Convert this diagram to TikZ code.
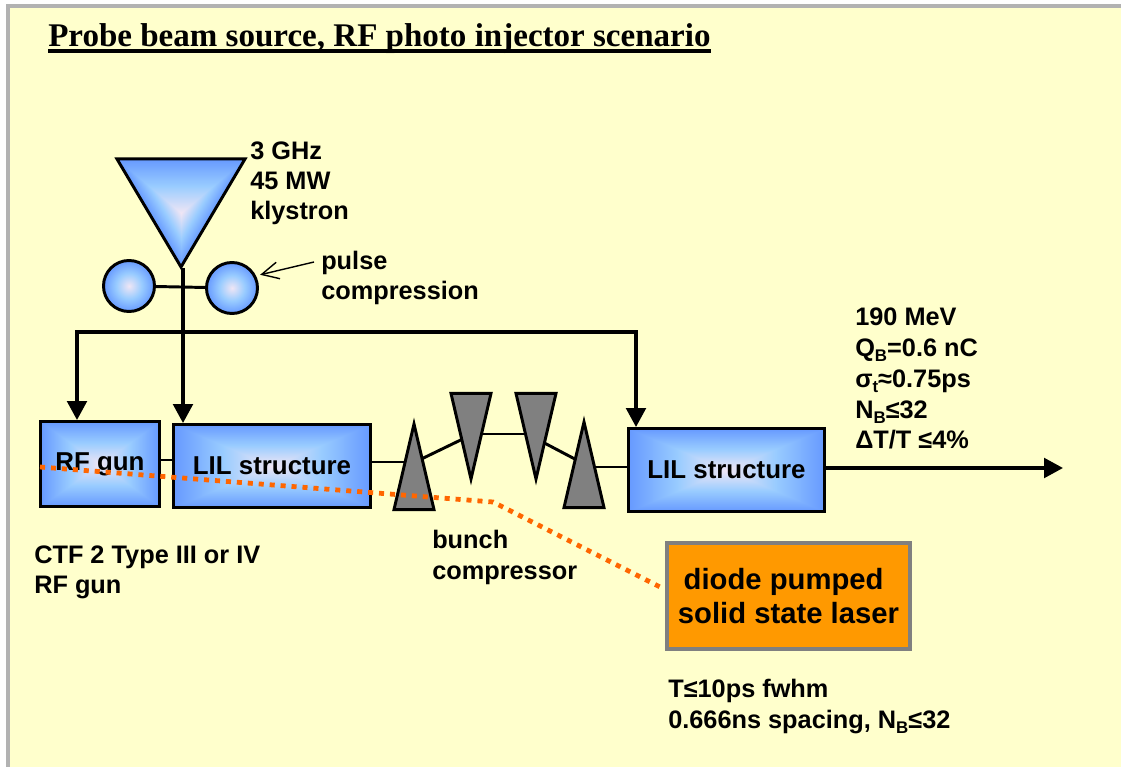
\documentclass[tikz,border=0pt]{standalone}
\usepackage{fontspec}
\setmainfont{Liberation Sans}
\newfontfamily\titlefont{Liberation Serif}
\usetikzlibrary{arrows.meta, shapes.geometric}
\definecolor{paper}{HTML}{FFFFCC}
\definecolor{framegray}{HTML}{B2B2B2}
\definecolor{coregray}{HTML}{808080}
\definecolor{laserorange}{HTML}{FF9900}
\definecolor{fibreorange}{HTML}{FF6600}
% colour ramp of the glow, from the middle (0) to the rim (1)
\newcommand{\glowramp}{dup 0.5 lt {2 mul dup 0.34 mul 0.94 exch sub exch dup 0.10 mul 0.90 exch sub exch 0.04 mul 0.96 add}{0.5 sub 2 mul dup 0.2 mul 0.6 exch sub exch dup 0.2 mul 0.8 exch sub exch pop 1} ifelse}
\pgfdeclarefunctionalshading{boxglow}{\pgfpoint{-50bp}{-50bp}}{\pgfpoint{50bp}{50bp}}{}{abs exch abs 2 copy lt {exch} if pop 25 div dup 1 gt {pop 1} if \glowramp}
\pgfdeclarefunctionalshading{ballglow}{\pgfpoint{-50bp}{-50bp}}{\pgfpoint{50bp}{50bp}}{}{dup mul exch dup mul add sqrt 25 div dup 1 gt {pop 1} if \glowramp}
\pgfdeclarefunctionalshading{wedgeglow}{\pgfpoint{-50bp}{-50bp}}{\pgfpoint{50bp}{50bp}}{}{2 copy exch abs 2 mul exch sub 3 1 roll exch pop 2 copy lt {exch} if pop 25 div dup 1 gt {pop 1} if \glowramp}
\newcommand{\lowtext}[1]{\raisebox{-0.42ex}{\fontsize{12}{12}\selectfont #1}}
\newcommand{\heavyline}[1]{\setbox0=\hbox{#1}\rlap{\rule[-4.5pt]{\wd0}{2.8pt}}\box0}
\tikzset{
    wave/.style={
        rectangle,
        draw=black,
        line width=2.1pt,
        shading=boxglow,
        font=\bfseries\fontsize{18.4}{21}\selectfont
    },
    cavity/.style={
        circle,
        draw=black,
        line width=2.1pt,
        minimum size=1.275cm,
        inner sep=0pt,
        shading=ballglow
    },
    wedge/.style={
        isosceles triangle,
        isosceles triangle stretches,
        draw=black,
        line width=2.1pt,
        inner sep=0pt,
        outer sep=0pt,
        anchor=apex,
        minimum width=1cm,
        minimum height=2.14cm
    },
    wedgeup/.style={wedge, shape border rotate=90, fill=coregray},
    wedgedown/.style={wedge, shape border rotate=270, fill=coregray},
    note/.style={
        align=left,
        anchor=base west,
        inner sep=0pt,
        font=\bfseries\fontsize{18}{21.5}\selectfont
    },
    link/.style={line width=2.1pt},
    feed/.style={line width=2.3pt, -{Triangle[length=13.5pt,width=14pt]}},
    pointer/.style={line width=1pt, shorten >=3pt, -{Straight Barb[length=12pt,width=12pt]}},
    fibre/.style={fibreorange, line width=3.4pt, dash pattern=on 3.6pt off 4.2pt}
}
\begin{document}
\begin{tikzpicture}[x=0.025cm, y=-0.025cm]
\useasboundingbox (0,0) rectangle (1121,767);
\fill[paper] (8,6) rectangle (1121,767);
\draw[framegray, line width=2.85pt] (1121,6) -- (8,6) -- (8,767);
\node[anchor=base west, inner sep=0pt, font=\titlefont\bfseries\fontsize{23.5}{28}\selectfont] (title) at (48,47) {\heavyline{Probe beam source, RF photo injector scenario}};

% rf source
\node[wedge, shape border rotate=270, shading=wedgeglow, minimum width=3.2cm, minimum height=2.7cm] (klystron) at (181,267) {};
\node[cavity] (comp1) at (129,286) {};
\node[cavity] (comp2) at (232,288) {};
\draw[link] (comp1) -- (comp2);
\node[note] (klystxt) at (250,220) {3 GHz\\45 MW\\klystron};
\node[note] (pulsetxt) at (321,300) {pulse\\compression};

% beam line
\node[wave, minimum width=2.975cm, minimum height=2.125cm] (gun) at (100,464) {\raisebox{2pt}{RF gun}};
\node[wave, minimum width=4.925cm, minimum height=2.075cm] (lil1) at (272,466) {LIL structure};
\node[wave, minimum width=4.9cm, minimum height=2.075cm] (lil2) at (726.5,470) {LIL structure};
\node[wedgeup] (bc1) at (414,424) {};
\node[wedgedown] (bc2) at (471,479) {};
\node[wedgedown] (bc3) at (536,479) {};
\node[wedgeup] (bc4) at (584,422) {};
\draw[link] (gun.east |- 0,460) -- (lil1.west |- 0,460);
\draw[link] (lil1.east |- 0,462) -- (bc1.left side |- 0,462);
\draw[link] (bc1.77.5) -- (bc2.253.6);
\draw[link] (bc2.left side |- 0,434) -- (bc3.right side |- 0,434);
\draw[link] (bc3.284.7) -- (bc4.105.4);
\draw[link] (bc4.right side |- 0,467) -- (lil2.west |- 0,467);

\coordinate (feedtop) at (183,268);
\coordinate (busl) at (77,332);
\coordinate (busr) at (636,332);
\coordinate (pulsetail) at (314,262);
\draw[feed] (feedtop) -- (feedtop |- lil1.north);
\draw[feed, {Triangle[length=13.5pt,width=14pt]}-{Triangle[length=13.5pt,width=14pt]}] (busl |- gun.north) -- (busl) -- (busr) -- (busr |- lil2.north);
\draw[pointer] (pulsetail) -- (comp2.27);
\coordinate (beamend) at (1063,468);
\draw[feed] (lil2.east |- beamend) -- (beamend);

% laser
\node[rectangle, draw=coregray, line width=2.85pt, fill=laserorange, minimum width=6.075cm, minimum height=2.65cm, align=center, font=\bfseries\fontsize{20.8}{24.9}\selectfont] (laser) at (788.5,596) {\raisebox{-1pt}{diode pumped}\hspace*{7pt}\\\raisebox{-0.5pt}{solid state laser}};
\coordinate (fibrestart) at (40,467);
\coordinate (fibrebend) at (493,502);
\coordinate (laserport) at (664,589);
\draw[fibre] (fibrestart) -- (fibrebend) -- (laserport);

% notes
\node[note] (bunchtxt) at (432,579) {bunch\\compressor};
\node[note] (guntxt) at (34,594) {CTF 2 Type III or IV\\RF gun};
\node[note] (lasertxt) at (668,728) {T≤10ps fwhm\\0.666ns spacing, N\lowtext{B}≤32};
\node[note, font=\bfseries\fontsize{18}{22}\selectfont] (beamtxt) at (855,449) {190 MeV\\Q\lowtext{B}=0.6 nC\\σ\lowtext{t}≈0.75ps\\N\lowtext{B}≤32\\ΔT/T ≤4\%};
\end{tikzpicture}
\end{document}
